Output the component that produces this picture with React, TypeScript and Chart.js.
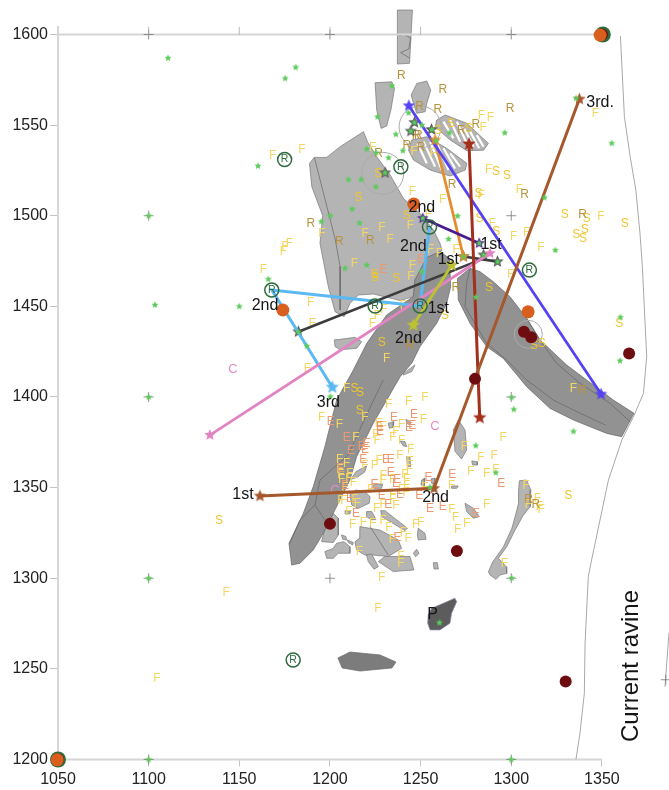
import React, { useEffect, useRef } from "react";
import { Chart, registerables } from "chart.js";

Chart.register(...registerables);

type P = [number, number];

const xTicksStep = 50;
const yTicksStep = 50;

// ---------- Skeleton outlines (site coordinates) ----------
const lightBones: P[][] = [
  [[1188.7,1528.9],[1191.4,1532.2],[1198.2,1532.2],[1205.6,1538.1],[1218.5,1546.4],[1220.7,1540.8],[1225.8,1532.6],[1233.2,1522.5],[1240.5,1509.6],[1249.7,1501.3],[1257.1,1492.1],[1260.7,1484.8],[1261.8,1480.7],[1253.4,1476.5],[1246.9,1464.6],[1246,1455.4],[1238.7,1453.2],[1224,1456.8],[1215.7,1456.3],[1211.1,1451.7],[1207.8,1444.3],[1202.8,1447.1],[1199.1,1460.9],[1194.5,1484.8],[1196,1500],[1190,1516]],
  [[1237.2,1613.5],[1245.5,1613.5],[1244.8,1600.6],[1243.9,1584.1],[1237.2,1583.7]],
  [[1224.9,1573.4],[1234.1,1573.9],[1235.6,1570.3],[1233.6,1558.3],[1231.3,1549.5],[1228.2,1548.2],[1225.8,1558.3]],
  [[1244.8,1566.6],[1247.9,1573],[1253.4,1574.3],[1255.6,1569.3],[1253.4,1562],[1252.5,1557.4],[1247.9,1556.5],[1246.1,1562]],
  [[1258.9,1552.8],[1263.5,1555.6],[1275.5,1551],[1287.4,1539.9],[1284.7,1536.2],[1275.5,1535.9],[1266.3,1541.8],[1258,1549.1]],
  [[1245.1,1541.8],[1253.4,1543.6],[1264.4,1537.2],[1275.5,1528.9],[1274.6,1525.2],[1266.3,1521.9],[1255.3,1525.2],[1246.1,1530.7],[1243.3,1536.2]],
  [[1202.4,1431.5],[1205.6,1431.8],[1213.8,1432.9],[1217.5,1430.5],[1214.8,1426.9],[1205.6,1426],[1202.8,1427.8]],
  [[1240.5,1413],[1246.9,1417.7],[1245.1,1414],[1240.5,1412.1]],
  [[1200.9,1336.8],[1204.6,1333.1],[1204.6,1323.9],[1201.8,1319.7],[1195.4,1320.2],[1197.2,1327.6]],
  [[1304.5,1353.8],[1308.5,1354.2],[1310.8,1348.6],[1310.4,1339.5],[1306.7,1334.9],[1302.1,1326.6],[1297.5,1317.4],[1292.9,1311],[1297.2,1306.4],[1297.5,1302.7],[1293.8,1301.8],[1291.6,1299.4],[1288.3,1301.8],[1287.4,1303.6],[1289.8,1309.1],[1295.7,1317.4],[1300.3,1327.5],[1302.1,1333.9],[1304,1341.3],[1304,1348.6]],
  [[1268,1381.8],[1270.8,1387.3],[1274.5,1381.8],[1275.4,1370.8],[1272.6,1365.8],[1269,1369.9]],
  [[1278.2,1364.7],[1281.3,1364.3],[1281.3,1362.5],[1278.7,1362.5]],
  [[1274.5,1341.4],[1279.1,1338.6],[1282.4,1334],[1279.1,1333.1],[1275.4,1336.8]],
  [[1232.2,1385.5],[1235.3,1386.4],[1234.9,1383.3],[1232.7,1382.7]],
  [[1241.9,1387.7],[1244.1,1386.4],[1244.1,1384.6],[1242.3,1385.5]],
  [[1238.6,1375.7],[1241.4,1375.4],[1242.3,1372.6],[1240.5,1373]],
  [[1242.3,1367.1],[1244.1,1367.1],[1244.5,1361.6],[1242.7,1361.6]],
  [[1250.6,1354.2],[1252.4,1355.2],[1252,1350.9],[1250.2,1351.5]],
  [[1255.7,1354.8],[1257.9,1355.2],[1257.9,1352],[1256.1,1352.4]],
  [[1223.9,1352],[1229,1352],[1228.5,1349.6],[1224.3,1349.6]],
  [[1267.1,1350.9],[1270.8,1350.9],[1269.9,1349.6],[1267.1,1349.6]],
  [[1220.2,1362],[1219.3,1358.8],[1215.1,1355.7],[1211.6,1354.6],[1214.3,1358.8]],
  [[1214.3,1348.7],[1219.3,1347.8],[1222.1,1345],[1221.7,1341.4],[1215.6,1338.6],[1212,1340.4],[1211,1346]],
  [[1208.3,1337.3],[1211.4,1336.8],[1211,1335.5],[1208.8,1335.5]],
  [[1220.2,1336.8],[1223,1336.8],[1225.4,1332.5],[1223,1332.2],[1220.2,1334]],
  [[1228,1337.3],[1230.3,1337.3],[1242.7,1327.6],[1241.4,1326.3],[1228.5,1334]],
  [[1248.7,1327.6],[1252.4,1324.8],[1253,1321.5],[1248.7,1321.1],[1248.2,1323.9]],
  [[1206.4,1323.9],[1208.8,1323],[1209.2,1321.1],[1207,1321.5]],
  [[1209.6,1321.1],[1212.9,1319.7],[1212.5,1318.4],[1210.1,1319.7]],
  [[1203.7,1319.3],[1207.7,1320.2],[1211,1317.4],[1211,1313.8],[1204.6,1313.8],[1201.8,1311],[1198.2,1311],[1197.2,1314.7],[1201.8,1316.5]],
  [[1216.5,1328.5],[1227.6,1326.6],[1237.7,1321.1],[1239.5,1316.5],[1232.2,1312],[1223.9,1312.8],[1219.3,1312.8],[1214.7,1315.6],[1213.8,1320.2],[1216.2,1322]],
  [[1226.7,1309.2],[1230.3,1312],[1244.1,1312],[1246.3,1304.6],[1234.9,1303.7]],
  [[1220.2,1312.9],[1223,1313.4],[1226.7,1306.4],[1224.3,1305],[1221.1,1309.2]],
  [[1246,1313.8],[1247.8,1316],[1249.1,1313.8],[1247.3,1311.9]],
  [[1257,1308.6],[1259.2,1308.6],[1259.8,1305.1],[1257.4,1305.1]],
];

const darkBones: P[][] = [
  [[1237.7,1409.4],[1223.9,1385.5],[1214.7,1367.1],[1211,1354.2],[1201.8,1335.8],[1196.3,1324.8],[1190.8,1315.6],[1183.5,1308.3],[1178.9,1307.3],[1177.4,1319.3],[1185.3,1335.8],[1190.8,1350.6],[1197.2,1372.6],[1200.9,1387.3],[1203.7,1398.4],[1212.9,1414.9],[1220.3,1429.6],[1231.3,1445.3],[1246,1455.4],[1246.9,1464.6],[1253.4,1477],[1260.7,1480.2],[1265.9,1476.5],[1266.6,1460.9],[1264.4,1451.7],[1258.9,1440.7],[1249.7,1427.8],[1245.1,1418.6],[1238.7,1411.2]],
  [[1270.3,1465.4],[1277.3,1471],[1282.8,1469.1],[1290.1,1463.6],[1299.3,1455.3],[1308.5,1443.4],[1315.9,1431.4],[1330.6,1417.6],[1341.6,1409.4],[1356.3,1398.3],[1367.7,1391],[1360.9,1378.1],[1352.7,1379.9],[1334.3,1387.3],[1321.4,1393.7],[1308.5,1405.7],[1295.6,1421.3],[1286.4,1427.8],[1277.3,1440.6],[1270.8,1453.5]],
];

const blackBones: P[][] = [
  [[1254.2,1279.8],[1256.1,1283.4],[1262.5,1286.2],[1268.9,1289],[1269.9,1287.1],[1267.1,1280.7],[1266.2,1275.2],[1260.7,1271.5],[1255.2,1271.5],[1253.9,1275.2]],
];

const midBones: P[][] = [
  [[1204.4,1256],[1211,1259.3],[1227.6,1257.7],[1236.4,1253.8],[1234.2,1250.5],[1216.6,1248.8],[1206.7,1250.5]],
];

const innerLines: P[][] = [
  [[1191.4,1532.2],[1202.9,1487],[1205.6,1472],[1205.6,1448]],
  [[1229.4,1409.4],[1219.3,1388.3],[1210.1,1368],[1194.5,1354.2],[1191.7,1340.4],[1183.5,1332.2],[1177.9,1319.3]],
  [[1191.7,1340.4],[1198,1331]],
  [[1277.3,1471],[1275.4,1462.7],[1274.5,1449.8],[1286.4,1429.6],[1297.5,1420.4],[1308.5,1409.4],[1323.2,1398.3],[1338,1391],[1352.1,1384.5]],
  [[1308.5,1443.4],[1315.9,1431.4],[1325,1418.6],[1338,1407.5],[1354.5,1396.5],[1365.5,1386.4]],
  [[1222.1,1328.5],[1232.2,1312.8]],
  [[1237.8,1599.5],[1241,1600],[1244.5,1598],[1243.5,1592],[1239,1590],[1244,1587]],
];

const stripes: P[][] = [
  [[1248.3,1539.9],[1253.4,1528.9]],[[1251.6,1540.8],[1258,1527.1]],[[1255.3,1540.8],[1261.7,1525.2]],
  [[1258.9,1539.9],[1265.4,1525.2]],[[1262.6,1537.2],[1269,1526.1]],[[1266.3,1534.4],[1271.8,1527.1]],
  [[1262.6,1551.9],[1268.1,1542.7]],[[1266.3,1552.8],[1271.8,1540.8]],[[1270,1551.9],[1275.5,1539.9]],
  [[1273.6,1549.1],[1279.2,1538.1]],[[1277.3,1546.4],[1282.3,1537.2]],[[1281,1544.5],[1284.7,1538.1]],
];

const ravineEast: P[] = [[1360.2,1599.2],[1362.4,1554.7],[1365.6,1532.6],[1368.7,1514.2],[1371,1490.3],[1372.3,1471.9],[1374.7,1422.2],[1372.9,1402],[1367.4,1389.1],[1361,1376.3],[1353.6,1354.2],[1344.3,1310.1],[1342.5,1300.9],[1340.7,1264.1],[1340.3,1236.5],[1337.9,1214.5],[1335.7,1200.1]];
const ravineFar: P[] = [[1387,1270],[1384.8,1240]];

const crossMarks: P[] = [[1100,1600],[1200,1600],[1300,1600],[1100,1500],[1300,1500],[1100,1400],[1300,1400],[1100,1300],[1200,1300],[1300,1300],[1100,1200],[1300,1200],[1385.2,1244]];
const topTicks: P[] = [[1100,1602],[1150,1602],[1200,1602],[1250,1602],[1300,1602]];
const axisLeft: P[] = [[1050,1604.7],[1050,1200]];
const axisBottom: P[] = [[1050,1200],[1350,1200]];
const axisTop: P[] = [[1050,1600],[1350,1600]];

// ---------- Find letters ----------
const fFinds: P[] = [
  [1184.5,1536.2],[1168.4,1533.1],[1223.6,1537.5],[1283.5,1555],[1288.5,1554.3],[1284.5,1548.4],[1246.4,1535.3],[1257.1,1534.4],[1287.5,1525.2],[1283.4,1510.9],[1245.5,1513.3],[1262.2,1508.7],[1254.3,1500.7],[1304.5,1514.2],[1289.5,1495.8],[1244.4,1494.4],[1228.6,1493.5],[1195.5,1490.3],[1219.4,1490.3],[1301.3,1488.6],[1233.2,1487],[1308.5,1490.7],[1316.4,1482.6],[1346.4,1556.5],[1349.4,1499.5],
  [1163.3,1470.4],[1177.6,1484.8],[1175.2,1483],[1174.3,1480.2],[1213.5,1473.8],[1245.5,1472.5],[1244.6,1466.4],[1255.6,1481.1],[1260.4,1479.3],[1269.6,1481.5],[1189.4,1452.2],[1190.3,1440.7],[1223.4,1440.3],[1226.2,1444.7],[1229.8,1448],[1187.5,1415.8],[1231.3,1421.3],[1209.2,1404.4],[1240.5,1450.2],[1299.7,1467.3],[1334.3,1404.4],
  [1195.4,1388.6],[1205.2,1384.6],[1232.4,1395.6],[1243.4,1397.4],[1252.4,1399.7],[1219.3,1388.6],[1226.7,1385.5],[1229.4,1383.7],[1225.4,1379],[1226.1,1375.7],[1236.4,1380.9],[1234.6,1377.8],[1239.5,1384.6],[1239.5,1376],[1251.5,1387.7],[1214.3,1377.6],[1244.5,1370.8],[1205.3,1365.6],[1209.2,1363],[1205.5,1359.7],[1206.1,1357.4],[1206.4,1354.6],[1211,1357.9],[1210.5,1355.1],[1212.9,1352.8],[1208.3,1350.2],[1219.3,1362],[1224.5,1362],[1227.2,1364.9],[1238.6,1367.5],[1244.1,1364.3],[1229.4,1356.6],[1229.4,1353.7],[1234.6,1354.2],[1241.4,1357.4],[1243.8,1359.7],[1242.3,1354.2],[1242.3,1350.9],[1239.5,1348.7],[1241.9,1347.2],[1234.6,1345.9],[1234.6,1343.2],[1229.4,1340.8],[1225.7,1338.6],[1236.4,1339.9],[1222.6,1349.1],[1206.1,1342.8],[1207.7,1342.8],[1213.8,1343.2],[1215.1,1341],[1210.5,1336.8],[1212.5,1329.8],[1218.4,1330.7],[1223.5,1329.9],[1229.4,1331.8],[1232.5,1328.1],[1234.4,1321.5],[1243.2,1322],[1240.5,1325.2],[1247.3,1329.8],[1250,1330.7],[1267.3,1337.7],[1269.3,1333.6],[1270.4,1326.6],[1275.4,1330.3],[1286.4,1340.8],[1277.6,1358.6],[1286.4,1357.6],[1283.3,1366.6],[1290.5,1367.7],[1295.6,1377.8],[1274.1,1372.6],[1267.1,1350.9],[1252.4,1350.2],[1216.2,1314.7],[1239.2,1311.9],[1239.2,1308.3],[1228.5,1300.5],[1291.6,1359.7],
  [1308.2,1350.9],[1314.4,1344],[1309.5,1340.4],[1316.5,1338],[1315.5,1339.5],[1296.2,1307.8],[1142.7,1291.9],[1104.6,1244.4],[1226.5,1283],
];

const sFinds: P[] = [
  [1266.7,1551],[1259.5,1546.9],[1276.6,1548.2],[1291.6,1524.3],[1297.7,1522.3],[1281.9,1512.3],[1226.7,1523.4],[1215.7,1510.1],[1242.4,1500.2],[1282.5,1498.2],[1291.7,1491.4],[1224.5,1467.3],[1224.8,1466],[1236.5,1465.5],[1228.6,1430.2],[1213.6,1404.4],[1216.6,1402.4],[1216.5,1392.5],[1263.5,1444.9],[1287.7,1460.3],[1359.6,1440.3],[1312.6,1428.3],[1316.8,1429.2],[1329.5,1500.4],[1341.6,1498.2],[1362.6,1495.5],[1340.5,1492.1],[1335.8,1489.4],[1339.6,1487.4],[1331.5,1345.5],[1138.8,1331.6],
];

const rFinds: P[] = [
  [1239.3,1577.1],[1262.2,1569.3],[1249.4,1560.2],[1259.5,1558.3],[1299.4,1559.2],[1248.8,1544.2],[1247.5,1544.2],[1242.4,1538.5],[1250.3,1537.7],[1226.8,1534],[1272.4,1546.7],[1280.5,1550],[1267.4,1517.3],[1189.4,1495.5],[1222.3,1486.5],[1205.2,1485.5],[1269.4,1460.3],[1244.2,1428.3],[1339.2,1403.5],[1307.3,1511.5],[1339.3,1500.4],[1309.5,1343.5],[1313.5,1340.4],
];

const eFinds: P[] = [
  [1200.4,1386.4],[1235.3,1388.6],[1246.3,1390.5],[1227.6,1383.7],[1227.6,1380.9],[1243.6,1383.1],[1245.4,1384],[1209.2,1377.6],[1220.2,1374.5],[1217.5,1372.6],[1219.3,1370.8],[1211.6,1370.4],[1218.4,1365.3],[1230.9,1365.3],[1233.5,1365.3],[1233.5,1358.3],[1205.9,1360.7],[1237.1,1354.6],[1236.4,1352],[1224.5,1351.5],[1228.5,1345.4],[1238.6,1346.3],[1249.3,1345.4],[1254.4,1355.7],[1267.5,1357.4],[1294.5,1352.4],[1211,1344.1],[1232.2,1340.4],[1214.3,1335.5],[1255.2,1338.6],[1262.2,1339.5],[1237.3,1322.6],[1280.4,1335.5],[1208.3,1350.9],[1229.5,1470.5],[1250.3,1476],
];

const cFinds: P[] = [[1257.9,1384],[1202.8,1348.2],[1146.5,1415]];

const greenStars: P[] = [
  [1110.7,1587],[1181.1,1581.9],[1175.3,1575.8],[1234.1,1571.7],[1243.3,1556.8],[1226.2,1554.6],[1236.3,1544.9],[1250.7,1550],[1256.2,1547.6],[1265.9,1545.8],[1296.4,1545.8],[1258.6,1541.4],[1240.2,1535.9],[1220.3,1536.8],[1225.5,1534.8],[1232.3,1532],[1210.2,1520],[1217.2,1520],[1225.3,1516],[1212.2,1503.7],[1200.1,1500],[1195.2,1496.8],[1216.3,1496],[1270.4,1499.9],[1265.4,1487.2],[1160.3,1527.5],[1100,1500],[1103.5,1450.8],[1150,1450],[1166,1465],[1208.3,1471],[1220.3,1472.8],[1187.2,1428.2],[1200.2,1400.2],[1280.5,1455.1],[1250.6,1469.2],[1100,1400],[1100,1300],[1100,1200],[1300,1200],[1300.2,1300.1],[1300.2,1399.8],[1301.4,1393.2],[1280.4,1373.2],[1291.5,1358.3],[1255.2,1350.2],[1260.4,1275.5],[1334.3,1381],[1355.4,1540],[1318.3,1510],[1324.3,1481],[1335.8,1564.8],[1360.2,1444],[1360,1420],[1230.4,1523.7],[1246.6,1551.5],[1244.6,1546.7],[1182.6,1436],[1273.6,1477.5],[1284.7,1478.4],[1292.4,1474.7],[1251.2,1498.6],[1282.3,1484.8],
];

// ---------- Refit lines and their ends ----------
const brownRefit: P[] = [[1161.4,1345.4],[1257.4,1349.6],[1337.6,1564.4]];
const redRefit: P[] = [[1276.7,1539.6],[1282.6,1388.6]];
const violetRefit: P[] = [[1243.5,1560.7],[1349.5,1401.6]];
const orangeRefit: P[] = [[1258,1541.8],[1273.6,1477.5]];
const purpleRefit: P[] = [[1251.2,1498.6],[1282.3,1484.8]];
const pinkRefit: P[] = [[1133.8,1379],[1288.3,1479.3]];
const limeRefit: P[] = [[1267.2,1472.8],[1246,1439.7]];
const skyRefitA: P[] = [[1254.9,1494],[1249.7,1450.2],[1168,1459],[1201.3,1405.4]];
const blackRefitA: P[] = [[1182.6,1436],[1285,1476.5]];
const blackRefitB: P[] = [[1273.6,1477.5],[1292.4,1474.7]];
const darkStars: P[] = [[1230.4,1523.7],[1246.6,1551.5],[1244.6,1546.7],[1256,1547.6],[1182.6,1436],[1273.6,1477.5],[1284.7,1478.4],[1292.4,1474.7]];

const rings: P[] = [[1229.1,1523.4],[1249.7,1549]];
const smallRings: P[] = [[1309.4,1434.6]];
const redCircles: P[] = [[1050,1200],[1350,1600],[1200,1330],[1270,1315],[1330,1243],[1280,1410],[1365,1424],[1307,1436],[1311,1433]];
const orangeCircles: P[] = [[1049.6,1199.8],[1349,1599.7],[1246.2,1506.5],[1174,1448],[1309.3,1447]];
const circledR: P[] = [[1175,1531],[1239.1,1527],[1310,1470],[1167.9,1459],[1224.9,1450.2],[1249.7,1450.2],[1254.9,1493.8],[1179.7,1254.9]];
const circledRHidden: P[] = [[1050,1200],[1350.5,1600]];

const noteTexts = ["2nd","2nd","1st","1st","1st","2nd","2nd","3rd","2nd","1st","3rd.","P"];
const notePos: P[] = [[1250.7,1504.6],[1246,1483],[1265.3,1475.6],[1288.9,1483.9],[1259.8,1448.6],[1243.3,1432.4],[1164.2,1450.2],[1199.1,1396.9],[1258.3,1344.5],[1152,1346],[1349,1562.6],[1256.6,1279.8]];
const ravineLabel = "Current ravine";
const ravineLabelPos: P[] = [[1366,1251.6]];

// ---------- helpers ----------
const pts = (a: P[]) => a.map(([x, y]) => ({ x, y }));

function starImage(fill: string, r: number, stroke?: string) {
  const pad = 2;
  const size = Math.ceil(2 * r + 2 * pad);
  const c = document.createElement("canvas");
  c.width = size; c.height = size;
  const g = c.getContext("2d")!;
  g.translate(size / 2, size / 2);
  g.beginPath();
  for (let i = 0; i < 10; i++) {
    const rad = i % 2 === 0 ? r : r * 0.45;
    const a = -Math.PI / 2 + (i * Math.PI) / 5;
    g.lineTo(rad * Math.cos(a), rad * Math.sin(a));
  }
  g.closePath();
  g.fillStyle = fill;
  g.fill();
  if (stroke) { g.strokeStyle = stroke; g.lineWidth = 1; g.stroke(); }
  return c;
}

const glyphPlugin = {
  id: "glyphs",
  beforeDatasetDraw(chart: any, args: any) {
    const ds = chart.data.datasets[args.index];
    if (!ds.polyFill) return;
    const meta = chart.getDatasetMeta(args.index);
    const ctx = chart.ctx;
    ctx.save();
    ctx.beginPath();
    meta.data.forEach((p: any, i: number) => (i ? ctx.lineTo(p.x, p.y) : ctx.moveTo(p.x, p.y)));
    ctx.closePath();
    ctx.fillStyle = ds.polyFill;
    ctx.fill();
    ctx.restore();
  },
  afterDatasetDraw(chart: any, args: any) {
    const ds = chart.data.datasets[args.index];
    if (!ds.glyph) return;
    const meta = chart.getDatasetMeta(args.index);
    const ctx = chart.ctx;
    ctx.save();
    ctx.font = ds.glyphFont;
    ctx.fillStyle = ds.glyphColor;
    ctx.textAlign = "center";
    ctx.textBaseline = "middle";
    meta.data.forEach((p: any, i: number) => {
      const t = Array.isArray(ds.glyph) ? ds.glyph[i] : ds.glyph;
      if (ds.glyphRotate) {
        ctx.save();
        ctx.translate(p.x, p.y);
        ctx.rotate(ds.glyphRotate);
        ctx.fillText(t, 0, 0);
        ctx.restore();
      } else {
        ctx.fillText(t, p.x, p.y);
      }
    });
    ctx.restore();
  },
};

const SANS = '"Liberation Sans", Arial, sans-serif';

export default function App() {
  const ref = useRef<HTMLCanvasElement | null>(null);
  useEffect(() => {
    const base = { clip: false, tension: 0 } as any;
    const poly = (a: P[], fill: string, edge: string) => ({
      ...base, data: pts([...a, a[0]]), showLine: true, polyFill: fill, borderColor: edge, borderWidth: 0.7, pointRadius: 0,
    });
    const line = (a: P[], color: string, width: number) => ({
      ...base, data: pts(a), showLine: true, borderColor: color, borderWidth: width, pointRadius: 0,
    });
    const star = (a: P[], fill: string, r: number, stroke?: string) => ({
      ...base, data: pts(a), showLine: false, pointStyle: starImage(fill, r, stroke), pointRadius: r,
    });
    const letters = (a: P[], t: string | string[], color: string, font: string) => ({
      ...base, data: pts(a), showLine: false, pointRadius: 0, glyph: t, glyphColor: color, glyphFont: font,
    });
    const dots = (a: P[], color: string, r: number) => ({
      ...base, data: pts(a), showLine: false, pointStyle: "circle", pointRadius: r, backgroundColor: color, borderColor: color, borderWidth: 0,
    });
    const ring = (a: P[], r: number) => ({
      ...base, data: pts(a), showLine: false, pointStyle: "circle", pointRadius: r, backgroundColor: "rgba(0,0,0,0)", borderColor: "#aaaaaa", borderWidth: 1,
    });
    const letterFont = `12px ${SANS}`;

    const layers: any[] = [
      ...lightBones.map((a) => poly(a, "#b4b4b4", "#777777")),
      ...darkBones.map((a) => poly(a, "#929292", "#666666")),
      ...midBones.map((a) => poly(a, "#7c7c7c", "#6a6a6a")),
      ...blackBones.map((a) => poly(a, "#5c5c5c", "#8a8ab0")),
      ...innerLines.map((a) => line(a, "#666666", 0.7)),
      ...stripes.map((a) => line(a, "#ffffff", 2.2)),
      ring(rings, 21),
      ring(smallRings, 14),
      line(axisLeft, "#d6d6d6", 2),
      line(axisBottom, "#d6d6d6", 2),
      line(axisTop, "#d6d6d6", 2),
      line(ravineEast, "#a8a8a8", 1),
      line(ravineFar, "#a8a8a8", 1),
      {
        ...base, data: pts(crossMarks), showLine: false, pointStyle: "cross", pointRadius: 5,
        borderColor: "#777777", borderWidth: 0.8,
      },
      {
        ...base, data: pts(topTicks), showLine: false, pointStyle: "line", rotation: 90, pointRadius: 4,
        borderColor: "#aaaaaa", borderWidth: 0.8,
      },
      letters(fFinds, "F", "#f5d662", letterFont),
      letters(sFinds, "S", "#efc62e", letterFont),
      letters(rFinds, "R", "#b9933c", letterFont),
      letters(eFinds, "E", "#ea9a72", letterFont),
      letters(cFinds, "C", "#e88cc8", `13px ${SANS}`),
      star(darkStars, "#5a5a5a", 6.5),
      line(skyRefitA, "#5ab8f2", 3),
      line(blackRefitA, "#3c3c3c", 2.6),
      line(blackRefitB, "#3c3c3c", 2.6),
      line(pinkRefit, "#e283c2", 2.8),
      line(limeRefit, "#bcc232", 2.8),
      line(orangeRefit, "#e58c2e", 2.8),
      line(purpleRefit, "#4a1a8e", 2.8),
      line(violetRefit, "#5542f2", 2.8),
      line(redRefit, "#a3301c", 3),
      line(brownRefit, "#a5582c", 3),
      star(skyRefitA.slice(3), "#5ab8f2", 7),
      star(pinkRefit, "#e283c2", 6),
      star(limeRefit, "#bcc232", 7),
      star(orangeRefit, "#e58c2e", 6.5),
      star(purpleRefit, "#4a1a8e", 6),
      star(violetRefit, "#5542f2", 6.5),
      star(redRefit, "#a3301c", 7),
      star(brownRefit, "#a5582c", 6.5),
      star(greenStars, "#5bcb5b", 3.7),
      {
        ...base, data: pts(circledRHidden), showLine: false, pointStyle: "circle", pointRadius: 8,
        backgroundColor: "#2d6a3c", borderColor: "#2d6a3c", borderWidth: 0,
      },
      dots(redCircles, "#6e0d10", 6),
      dots(orangeCircles, "#d95f1e", 6.5),
      {
        ...base, data: pts(circledR), showLine: false, pointStyle: "circle", pointRadius: 7,
        backgroundColor: "rgba(0,0,0,0)", borderColor: "#2d6a3c", borderWidth: 1.5,
        glyph: "R", glyphColor: "#2d6a3c", glyphFont: `10.5px ${SANS}`,
      },
      letters(notePos, noteTexts, "#151515", `16px ${SANS}`),
      { ...letters(ravineLabelPos, ravineLabel, "#151515", `24px ${SANS}`), glyphRotate: -Math.PI / 2 },
    ];
    // Chart.js paints the first dataset last, so bottom layers go at the end.
    const datasets = [...layers].reverse();

    const chart = new Chart(ref.current!, {
      type: "scatter",
      data: { datasets },
      plugins: [glyphPlugin],
      options: {
        animation: false,
        responsive: false,
        events: [],
        layout: { padding: 0, autoPadding: false },
        plugins: { legend: { display: false }, tooltip: { enabled: false }, title: { display: false } },
        scales: {
          x: {
            type: "linear",
            min: 1050,
            max: 1387,
            afterFit: (s: any) => { s.height = 30.5; s.paddingLeft = 0; s.paddingRight = 0; },
            border: { display: false },
            grid: { drawOnChartArea: false, color: "#c4c4c4", tickLength: 7 },
            ticks: { stepSize: xTicksStep, includeBounds: false, maxRotation: 0, autoSkip: false, color: "#222222", padding: 3, font: { family: SANS, size: 16 }, callback: (v: any) => String(v) },
          },
          y: {
            type: "linear",
            min: 1200,
            max: 1619.03,
            afterFit: (s: any) => { s.width = 58; s.paddingTop = 0; s.paddingBottom = 0; },
            border: { display: false },
            grid: { drawOnChartArea: false, color: "#c4c4c4", tickLength: 8 },
            ticks: { stepSize: yTicksStep, includeBounds: false, autoSkip: false, color: "#222222", padding: 2, font: { family: SANS, size: 16 }, callback: (v: any) => String(v) },
          },
        },
      } as any,
    });
    return () => chart.destroy();
  }, []);
  return (
    <div style={{ position: "absolute", left: 0, top: 0, width: 669, height: 790, background: "#ffffff" }}>
      <canvas ref={ref} width={669} height={790} style={{ display: "block", width: 669, height: 790 }} />
    </div>
  );
}
